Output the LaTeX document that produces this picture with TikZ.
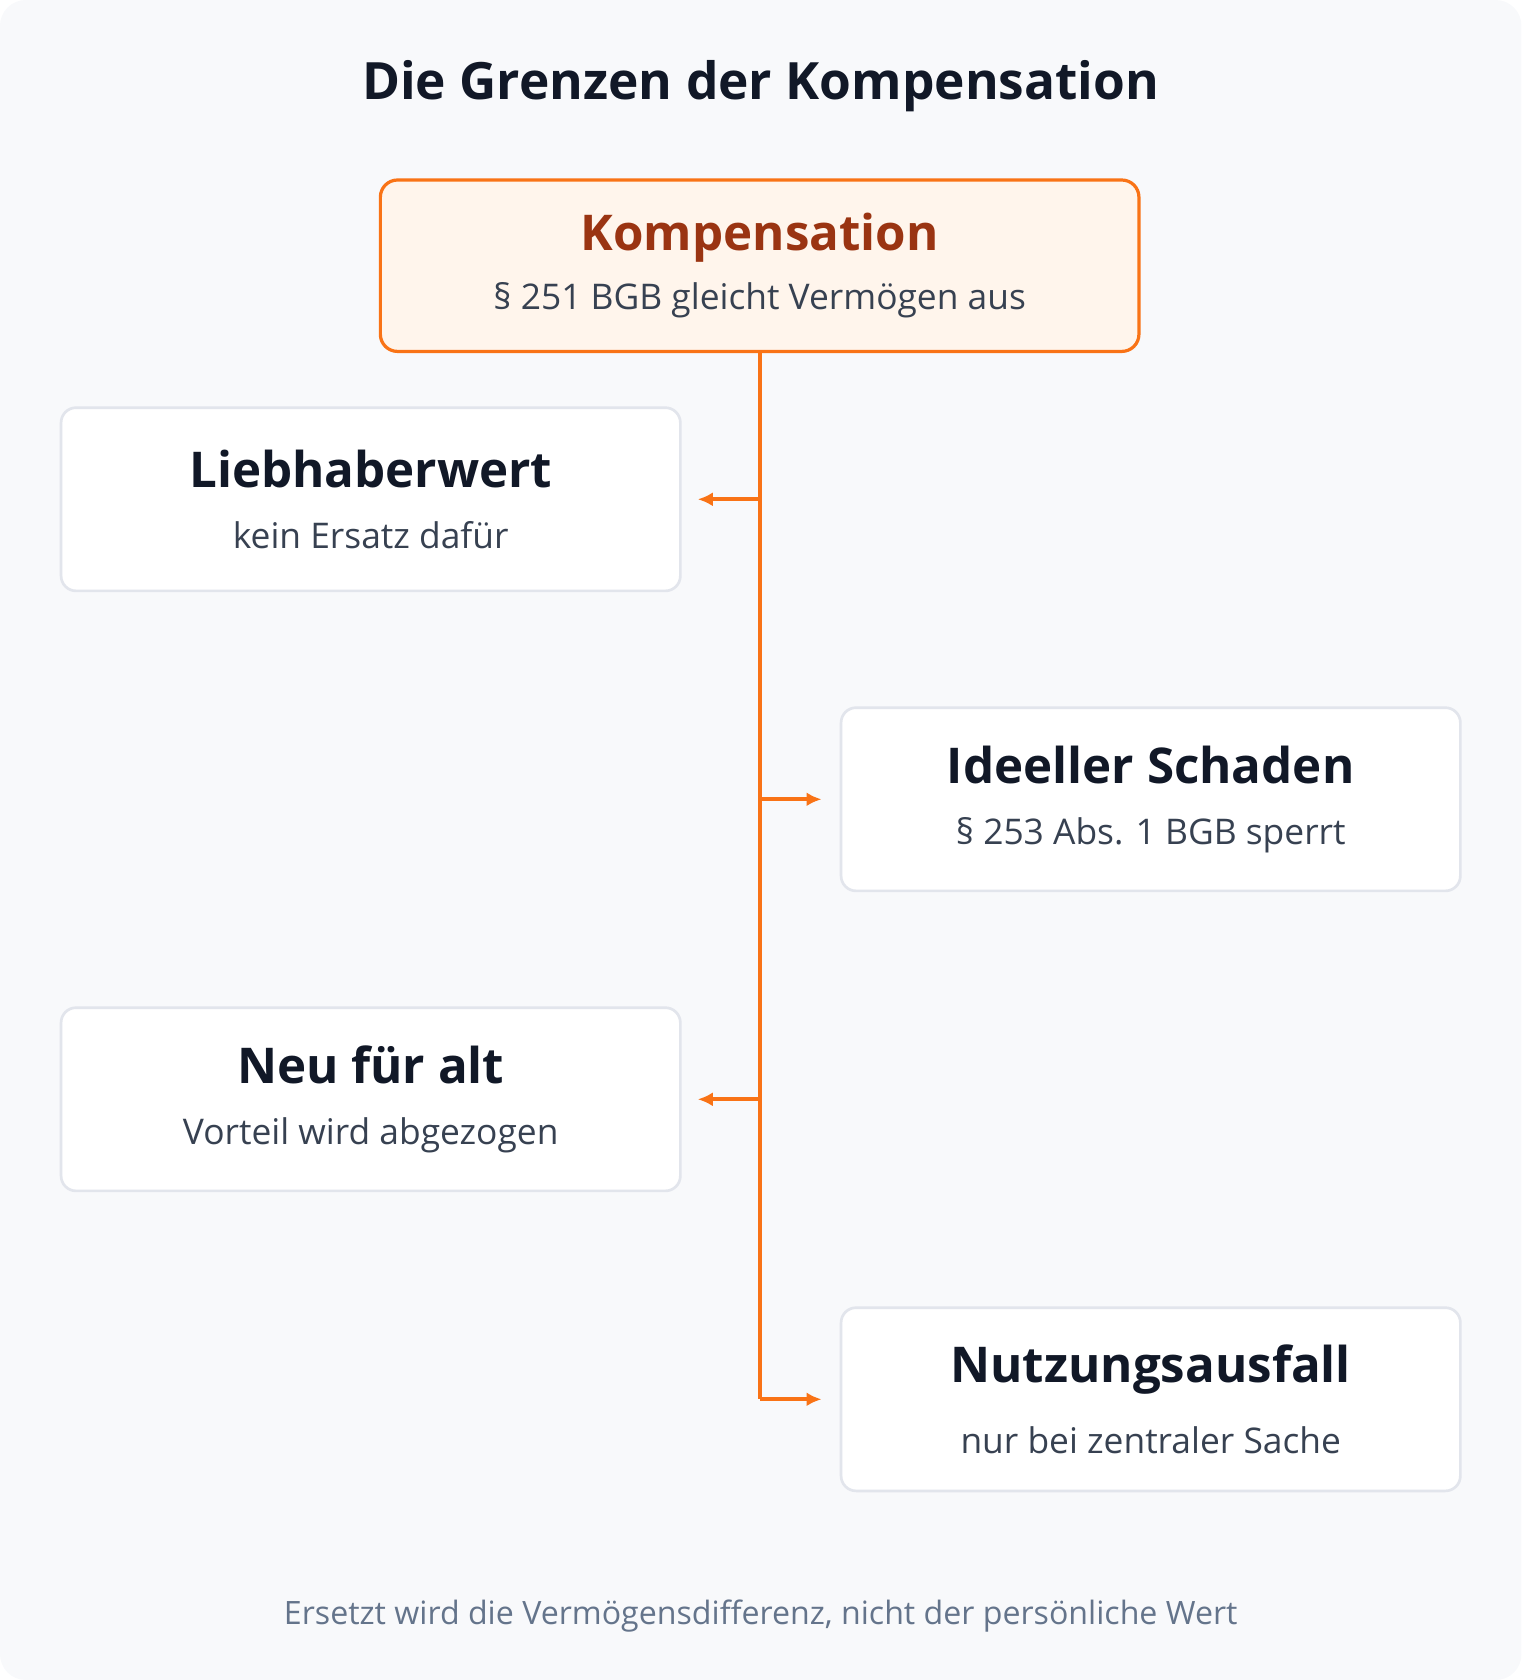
\documentclass[tikz,border=0pt]{standalone}
\usepackage{fontspec}
\setmainfont{Open Sans}
\usetikzlibrary{positioning,arrows.meta}
\definecolor{bgcol}{HTML}{F8F9FB}
\definecolor{orangeline}{HTML}{F97316}
\definecolor{orangefill}{HTML}{FFF5EC}
\definecolor{darkorange}{HTML}{9A3412}
\definecolor{inkdark}{HTML}{111827}
\definecolor{inkgrey}{HTML}{374151}
\definecolor{footgrey}{HTML}{64748B}
\definecolor{boxline}{HTML}{E2E5EC}
\tikzset{
  item/.style = {draw=boxline, line width=2.5pt, fill=white, rounded corners=14pt,
    minimum width=578pt, minimum height=171pt, align=center, inner sep=0pt},
  head/.style = {draw=orangeline, line width=3pt, fill=orangefill, rounded corners=16pt,
    minimum width=708pt, minimum height=160pt, align=center, inner sep=0pt},
  link/.style = {orangeline, line width=3.5pt},
  tip/.style = {link, -{Latex[length=14pt,width=13pt]}}
}
\newcommand{\boxtext}[2]{{\fontsize{46}{56}\selectfont\bfseries #1}\\[30pt]{\fontsize{33}{40}\selectfont\color{inkgrey}#2}}
\begin{document}
\begin{tikzpicture}[x=1pt, y=-1pt]
  \fill[bgcol, rounded corners=24pt] (0,0) rectangle (1420,1568);
  \useasboundingbox (0,0) rectangle (1420,1568);

  \node (title) at (710,80) {\fontsize{48}{58}\selectfont\bfseries\color{inkdark}Die Grenzen der Kompensation};

  \node (komp) [head] at (709,248) {{\fontsize{46}{56}\selectfont\bfseries\color{darkorange}Kompensation}\\[18pt]{\fontsize{33}{40}\selectfont\color{inkgrey}§ 251 BGB gleicht Vermögen aus}};

  \node (lieb) [item, text=inkdark] at (346,466) {\boxtext{Liebhaberwert}{kein Ersatz dafür}};
  \node (ideell) [item, text=inkdark] at (1074,746) {\boxtext{Ideeller Schaden}{§ 253 Abs. 1 BGB sperrt}};
  \node (neu) [item, text=inkdark] at (346,1026) {\boxtext{Neu für alt}{Vorteil wird abgezogen}};
  \node (nutz) [item, text=inkdark] at (1074,1306) {\boxtext{Nutzungsausfall}{nur bei zentraler Sache}};

  \coordinate (j1) at (709,466);
  \coordinate (j2) at (709,746);
  \coordinate (j3) at (709,1026);
  \coordinate (j4) at (709,1306);

  \draw[link] (komp.south) -- (j4);
  \draw[tip] (j1) -- ([xshift=15pt]lieb.east);
  \draw[tip] (j2) -- ([xshift=-17pt]ideell.west);
  \draw[tip] (j3) -- ([xshift=15pt]neu.east);
  \draw[tip] (j4) -- ([xshift=-17pt]nutz.west);

  \node (foot) at (710,1508) {\fontsize{30}{36}\selectfont\color{footgrey}Ersetzt wird die Vermögensdifferenz, nicht der persönliche Wert};
\end{tikzpicture}
\end{document}
